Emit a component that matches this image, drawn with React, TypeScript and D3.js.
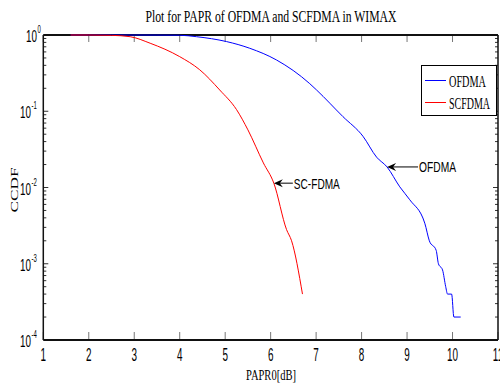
import React from 'react'
import * as d3 from 'd3'

// CCDF readings
const ofdmaX = [1.6, 2.5, 3.5, 4.0, 4.37, 5.03, 5.54, 6.13, 6.86, 7.01, 7.59, 8.03, 8.33, 8.56, 8.84, 9.06, 9.39, 9.49, 9.64, 9.69, 9.78, 9.85, 9.89, 9.98, 10.03, 10.18]
const ofdmaP = [1, 1, 0.998, 0.993, 0.95, 0.82, 0.67, 0.47, 0.23, 0.19, 0.085, 0.047, 0.025, 0.0186, 0.0102, 0.0069, 0.0034, 0.002, 0.0015, 0.001, 0.00083, 0.0005, 0.0004, 0.0004, 0.0002, 0.0002]

const scfdmaX = [1.6, 2.0, 2.5, 2.91, 3.35, 4.0, 4.44, 4.88, 5.25, 5.5, 5.84, 6.07, 6.35, 6.46, 6.7]
const scfdmaP = [1, 1, 0.99, 0.95, 0.78, 0.52, 0.35, 0.19, 0.105, 0.057, 0.021, 0.0114, 0.0028, 0.002, 0.0004]

const xTicks = [1, 2, 3, 4, 5, 6, 7, 8, 9, 10, 11]
const yExponents = [0, -1, -2, -3, -4]

const legendNames = ['OFDMA', 'SCFDMA']
const colors = ['#0000ff', '#ff0000']

const W = 500
const H = 385
const left = 43.3
const right = 498
const top = 35
const bottom = 340

const sans = "'Liberation Sans', Arial, sans-serif"
const serif = "'Liberation Serif', 'Times New Roman', serif"

// narrow, tall text like the reference
const Narrow = ({ x, y, size, sx, anchor, family, children }: any) => (
  <text transform={`translate(${x},${y}) scale(${sx},1)`} textAnchor={anchor ?? 'start'}
        fontFamily={family ?? sans} fontSize={size} fill="#000">{children}</text>
)

export default function App() {
  const x = d3.scaleLinear().domain([1, 11]).range([left, right])
  const y = d3.scaleLog().domain([1e-4, 1]).range([bottom, top])

  const line = d3.line<[number, number]>()
    .x(d => x(d[0]))
    .y(d => y(d[1]))
    .curve(d3.curveMonotoneX)

  const ofdma = ofdmaX.map((v, i) => [v, ofdmaP[i]] as [number, number])
  const scfdma = scfdmaX.map((v, i) => [v, scfdmaP[i]] as [number, number])

  // minor log ticks
  const minor: number[] = []
  for (let e = -4; e < 0; e++) {
    for (let k = 2; k <= 9; k++) minor.push(k * Math.pow(10, e))
  }

  const arrow = (tipX: number, tipY: number, len: number) => {
    const hx = tipX + 9
    return (
      <g>
        <line x1={tipX + 4} y1={tipY} x2={tipX + len} y2={tipY} stroke="#000" strokeWidth={1} />
        <path d={`M${tipX},${tipY} L${hx},${tipY - 4} L${tipX + 6},${tipY} L${hx},${tipY + 4} Z`} fill="#000" />
      </g>
    )
  }

  const aS = [6.07, 0.0114]
  const aO = [8.56, 0.0186]

  return (
    <svg width={W} height={H} style={{ position: 'absolute', left: 0, top: 0, background: '#fff' }}>
      <rect x={0} y={0} width={W} height={H} fill="#fff" />
      <text x={271} y={22} textAnchor="middle" fontFamily={serif} fontSize={17} fill="#000"
            textLength={251} lengthAdjust="spacingAndGlyphs">
        Plot for PAPR of OFDMA and SCFDMA in WIMAX
      </text>

      {/* ticks */}
      {xTicks.map(t => (
        <g key={'xt' + t}>
          <line x1={x(t)} x2={x(t)} y1={bottom} y2={bottom - 8} stroke="#777" strokeWidth={1} />
          <line x1={x(t)} x2={x(t)} y1={top} y2={top + 7} stroke="#777" strokeWidth={1} />
          <Narrow x={x(t)} y={361} size={18} sx={0.55} anchor="middle">{t}</Narrow>
        </g>
      ))}
      {minor.map((m, i) => (
        <g key={'mn' + i}>
          <line x1={left} x2={left + 3} y1={y(m)} y2={y(m)} stroke="#333" strokeWidth={1} />
          <line x1={right} x2={right - 3} y1={y(m)} y2={y(m)} stroke="#333" strokeWidth={1} />
        </g>
      ))}
      {yExponents.map(e => {
        const yy = y(Math.pow(10, e))
        const baseEnd = e === 0 ? 37 : 31
        return (
          <g key={'ye' + e}>
            <line x1={left} x2={left + 5} y1={yy} y2={yy} stroke="#333" strokeWidth={1} />
            <line x1={right} x2={right - 5} y1={yy} y2={yy} stroke="#333" strokeWidth={1} />
            <Narrow x={baseEnd} y={yy + 7} size={17} sx={0.58} anchor="end">10</Narrow>
            <Narrow x={baseEnd + 0.5} y={yy - 2} size={10} sx={0.6}>{e}</Narrow>
          </g>
        )
      })}

      {/* axes box */}
      <line x1={left} x2={right} y1={top} y2={top} stroke="#111" strokeWidth={2} />
      <line x1={left} x2={right} y1={bottom} y2={bottom} stroke="#111" strokeWidth={2} />
      <line x1={left} x2={left} y1={top} y2={bottom} stroke="#111" strokeWidth={1.5} />
      <line x1={right} x2={right} y1={top} y2={bottom} stroke="#111" strokeWidth={1.5} />

      {/* curves */}
      <path d={line(ofdma) ?? ''} fill="none" stroke={colors[0]} strokeWidth={1} />
      <path d={line(scfdma) ?? ''} fill="none" stroke={colors[1]} strokeWidth={1} />

      {/* annotations */}
      {arrow(x(aS[0]), y(aS[1]), 19)}
      <text x={x(aS[0]) + 20} y={y(aS[1]) + 5.5} fontFamily={sans} fontSize={15} fill="#000"
            textLength={46} lengthAdjust="spacingAndGlyphs">SC-FDMA</text>
      {arrow(x(aO[0]), y(aO[1]), 31)}
      <text x={x(aO[0]) + 32} y={y(aO[1]) + 5.5} fontFamily={sans} fontSize={15} fill="#000"
            textLength={37} lengthAdjust="spacingAndGlyphs">OFDMA</text>

      {/* legend */}
      <rect x={421.5} y={65.5} width={75} height={50} fill="#fff" stroke="#000" strokeWidth={1} />
      {legendNames.map((n, i) => (
        <g key={n}>
          <line x1={425} x2={446} y1={80.5 + i * 22} y2={80.5 + i * 22} stroke={colors[i]} strokeWidth={1} />
          <text x={449} y={86.5 + i * 22} fontFamily={serif} fontSize={16} fill="#000"
                textLength={i === 0 ? 37 : 41} lengthAdjust="spacingAndGlyphs">{n}</text>
        </g>
      ))}

      {/* axis labels */}
      <text x={271} y={380} textAnchor="middle" fontFamily={serif} fontSize={15} fill="#000"
            textLength={50} lengthAdjust="spacingAndGlyphs">PAPR0[dB]</text>
      <text transform={`translate(18,190) rotate(-90)`} textAnchor="middle" fontFamily={serif} fontSize={10.5} fill="#000"
            textLength={45} lengthAdjust="spacingAndGlyphs">CCDF</text>
    </svg>
  )
}
